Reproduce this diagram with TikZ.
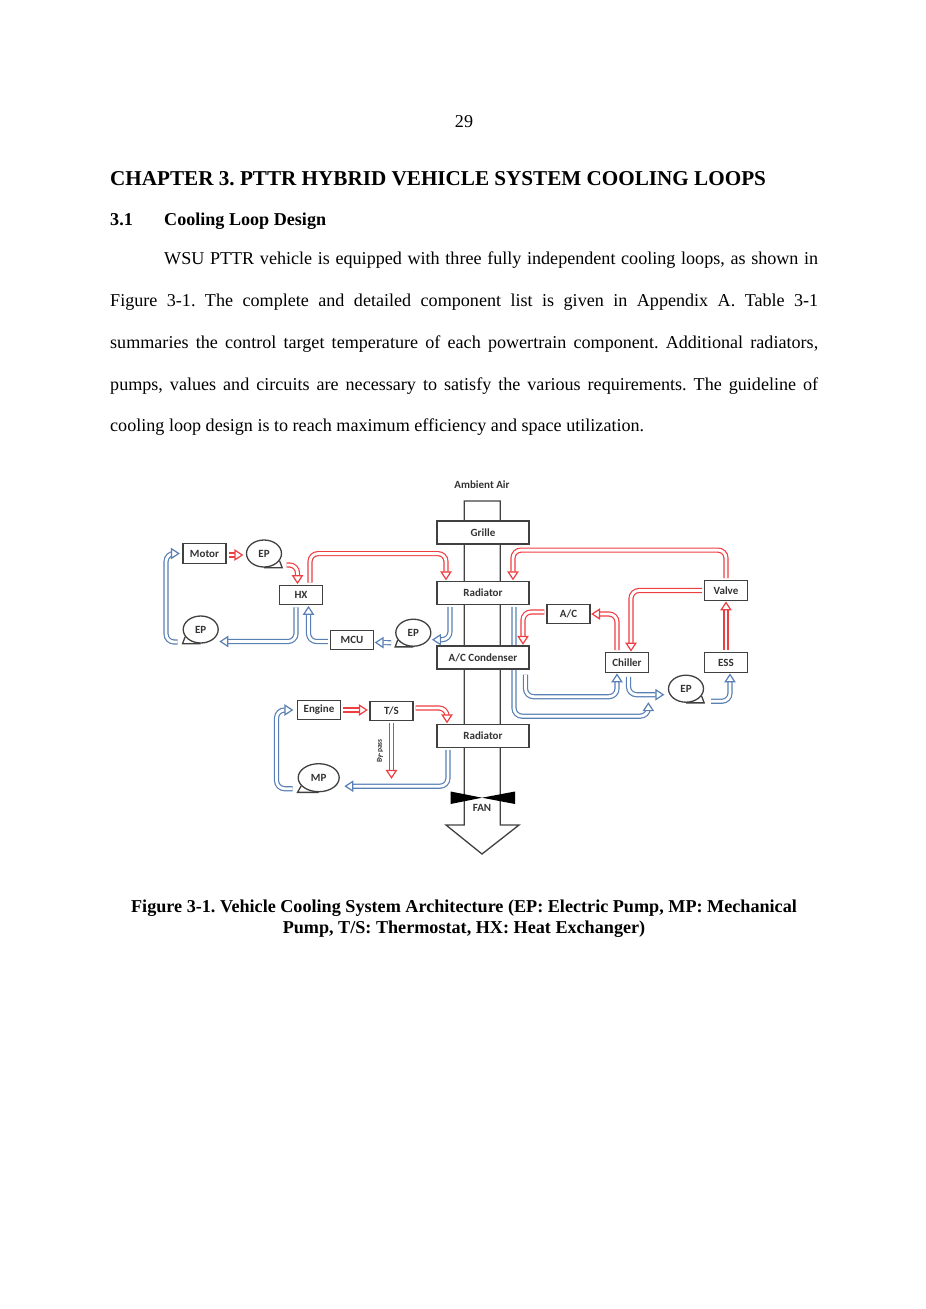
\documentclass[tikz,border=0pt]{standalone}
\usepackage{fontspec}
\setmainfont{Liberation Serif}
\newfontfamily\labelfont{Carlito}
\usetikzlibrary{arrows.meta,shapes.geometric,backgrounds}
\definecolor{hotred}{RGB}{238,62,66}
\definecolor{coolblue}{RGB}{88,128,180}
\definecolor{inkgray}{RGB}{64,64,64}
\frenchspacing
\begin{document}
\begin{tikzpicture}[
    x=1pt, y=-1pt,
    % Define the style for the component boxes
    unit/.style={draw=inkgray, fill=white, line width=1.3pt, minimum width=43pt, minimum height=19.5pt, inner sep=0pt, font=\labelfont\bfseries\fontsize{11}{12}\selectfont, text=black!80},
    wideunit/.style={unit, minimum width=92pt, minimum height=23pt},
    % Define the style for the pumps (the tail is added at the end)
    pump/.style={unit, ellipse, minimum width=35pt, minimum height=27pt},
    % Define the style for the coolant flows (hollow lines)
    flow/.style={double=white, double distance=2.8pt, line width=1.2pt, rounded corners=8pt, shorten <=2pt, shorten >=0.5pt},
    hot/.style={flow, draw=hotred, -{Triangle[length=9pt, width=11.5pt, line width=1.2pt, fill=white, hotred]}},
    cool/.style={flow, draw=coolblue, -{Triangle[length=9pt, width=11.5pt, line width=1.2pt, fill=white, coolblue]}},
    % Font settings
    bodyline/.style={anchor=base west, inner sep=0pt, font=\fontsize{18.1}{20}\selectfont},
    plain/.style={font=\labelfont\bfseries\fontsize{11}{12}\selectfont, inner sep=0pt, text=black!80}
]
    \useasboundingbox (0,0) rectangle (926,1309);

    % --- Page text ---
    \node[inner sep=0pt, font=\fontsize{18.1}{20}\selectfont] (pagenum) at (464,122) {29};
    \node[bodyline, font=\fontsize{21.15}{24}\selectfont\bfseries] (chapter) at (110,185) {CHAPTER 3. PTTR HYBRID VEHICLE SYSTEM COOLING LOOPS};
    \node[bodyline, font=\fontsize{18.1}{20}\selectfont\bfseries] (secnum) at (110,225) {3.1};
    \node[bodyline, font=\fontsize{18.1}{20}\selectfont\bfseries] (sectitle) at (164,225) {Cooling Loop Design};
    \node[bodyline] (linea) at (164,264) {\makebox[654pt][s]{WSU PTTR vehicle is equipped with three fully independent cooling loops, as shown in}};
    \node[bodyline] (lineb) at (110,306) {\makebox[708pt][s]{Figure 3-1. The complete and detailed component list is given in Appendix A. Table 3-1}};
    \node[bodyline] (linec) at (110,348) {\makebox[708pt][s]{summaries the control target temperature of each powertrain component. Additional radiators,}};
    \node[bodyline] (lined) at (110,390) {\makebox[708pt][s]{pumps, values and circuits are necessary to satisfy the various requirements. The guideline of}};
    \node[bodyline] (linee) at (110,431) {cooling loop design is to reach maximum efficiency and space utilization.};
    \node[inner sep=0pt, align=center, font=\fontsize{18.15}{21}\selectfont\bfseries] (caption) at (464,919) {Figure 3-1. Vehicle Cooling System Architecture (EP: Electric Pump, MP: Mechanical\\Pump, T/S: Thermostat, HX: Heat Exchanger)};

    % --- Air duct labels ---
    \node[plain] (ambient) at (482,484.5) {Ambient Air};

    % --- Components ---
    \node[wideunit] (grille) at (483,532.5) {Grille};
    \node[wideunit] (radtop) at (483,593) {Radiator};
    \node[wideunit] (cond) at (483,657.5) {A/C Condenser};
    \node[wideunit] (radlow) at (483,736) {Radiator};

    \node[unit] (motor) at (204.5,553.5) {Motor};
    \node[unit] (hx) at (301,595) {HX};
    \node[unit] (mcu) at (352,640) {MCU};
    \node[unit] (ac) at (568.5,614) {A/C};
    \node[unit] (valve) at (726,590.5) {Valve};
    \node[unit] (chiller) at (627,662.5) {Chiller};
    \node[unit] (ess) at (726,662.5) {ESS};
    \node[unit] (engine) at (319,710) {Engine};
    \node[unit] (ts) at (391.5,711) {T/S};

    \node[pump] (epa) at (264,553.5) {EP};
    \node[pump] (epb) at (200.7,629.5) {EP};
    \node[pump] (epc) at (413.3,632.7) {EP};
    \node[pump] (epd) at (686,688.7) {EP};
    \node[pump, minimum width=41pt, minimum height=28pt] (mp) at (318.7,777.7) {MP};

    % Tails of the pumps
    \foreach \p in {epa,epd}
        \draw[draw=inkgray, line width=1.3pt] (\p.south) -- (\p.south -| \p.east) -- (\p.-25);
    \foreach \p in {epb,epc,mp}
        \draw[draw=inkgray, line width=1.3pt] (\p.south) -- (\p.south -| \p.west) -- (\p.205);

    % --- Air duct and its outlet (behind the boxes) ---
    \begin{pgfonlayer}{background}
        \draw[draw=inkgray, line width=1.3pt] (464.3,501) -- (464.3,825) -- (446,825) -- (482,854) -- (519,825) -- (500.3,825) -- (500.3,501) -- cycle;
        % This one runs behind the condenser
        \draw[cool] ([xshift=31]radtop.south) -- ++(0,111) -| ([xshift=-19.5,yshift=-13]epd.west);
    \end{pgfonlayer}

    % --- Fan ---
    \fill[black] (450.7,791.5) -- (482,797.7) -- (515,791.5) -- (515,804) -- (482,797.7) -- (450.7,804) -- cycle;
    \node[plain] (fan) at (482,808) {FAN};

    % --- Hot side ---
    \draw[hot] ([yshift=-1.5]motor.east) -- ([xshift=-2,yshift=-1.5]epa.west);
    \draw[hot] ([xshift=2.5,yshift=-11.5]epa.east) -| ([xshift=-3.5]hx.north);
    \draw[hot] ([xshift=9]hx.north) -- ++(0,-31) -| ([xshift=-37]radtop.north);
    \draw[hot] (valve.north) -- ++(0,-30) -| ([xshift=30]radtop.north);
    \draw[hot] (valve.west) -| ([xshift=4]chiller.north);
    \draw[hot] ([xshift=-10]chiller.north) |- (ac.east);
    \draw[hot] ([yshift=2]ac.west) -| ([xshift=40]cond.north);
    \draw[hot] (ess.north) -- (valve.south);
    \draw[hot] (engine.east) -- ([xshift=-1]ts.west |- engine.east);
    \draw[hot] ([yshift=3]ts.east) -| ([xshift=-36]radlow.north);
    \draw[hot] (ts.south) -- ++(0,58);
    \node[plain, rotate=90, font=\labelfont\bfseries\fontsize{7.5}{8}\selectfont] (bypass) at (380,751) {By-pass};

    % --- Cool side ---
    \draw[cool] ([xshift=-3,yshift=-12.5]epb.west) -- ++(-13.5,0) |- ([xshift=-2]motor.west);
    \draw[cool] ([xshift=-5]hx.south) |- ([yshift=-12]epb.east);
    \draw[cool] ([yshift=-1.5]mcu.west) -| ([xshift=7.5]hx.south);
    \draw[cool] ([xshift=-2,yshift=-10]epc.west) -- ([yshift=-2.5]mcu.east);
    \draw[cool] ([xshift=-33]radtop.south) |- ([yshift=-7]epc.east);
    \draw[cool] ([xshift=42.5,yshift=-3]cond.south) -- ++(0,24) -| ([xshift=-10]chiller.south);
    \draw[cool] ([xshift=1.5,yshift=-2]chiller.south) |- ([xshift=-3,yshift=-6]epd.west);
    \draw[cool] ([xshift=5,yshift=-12.5]epd.east) -| ([xshift=4]ess.south);
    \draw[cool] ([xshift=-35]radlow.south) |- ([xshift=4,yshift=-8.5]mp.east);
    \draw[cool] ([xshift=-3,yshift=-11]mp.west) -- ++(-18,0) |- ([xshift=-3]engine.west);

\end{tikzpicture}
\end{document}
